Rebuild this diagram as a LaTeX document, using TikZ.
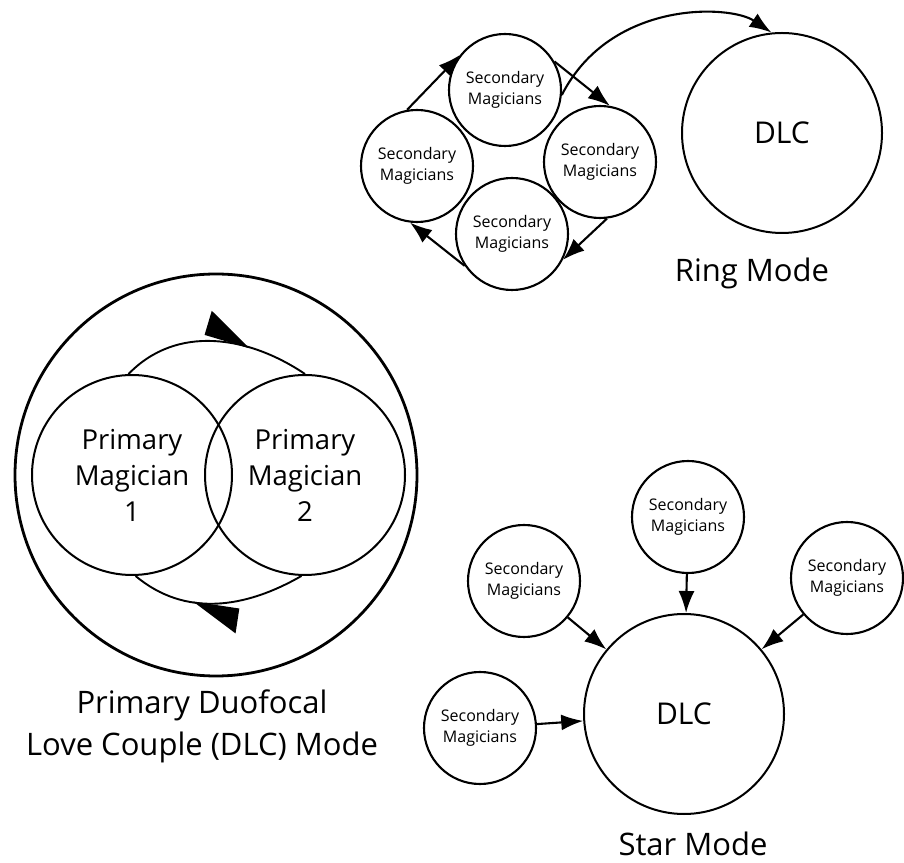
\documentclass[tikz,border=0pt]{standalone}
\usepackage{fontspec}
\setmainfont{Open Sans}
\usetikzlibrary{arrows.meta,decorations.markings}

\begin{document}
\begin{tikzpicture}[x=1pt,y=1pt,>={Latex[length=22pt,width=16pt]},
		magician/.style={circle,draw,line width=2.1pt,inner sep=0pt,minimum size=112pt,align=center,font=\fontsize{16}{21}\selectfont},
		primary/.style={circle,draw,line width=2pt,inner sep=0pt,minimum size=200pt,align=center,font=\fontsize{27.5}{36}\selectfont},
		dlc/.style={primary,font=\fontsize{30}{36}\selectfont},
		modename/.style={align=center,font=\fontsize{31}{42}\selectfont},
		flow/.style={->,line width=2.1pt},
		spin/.style={line width=1.9pt,decoration={markings,mark=at position #1 with {\arrow{Triangle[harpoon,length=45pt,width=48pt]}}},postaction=decorate}]
			\useasboundingbox (0,0) rectangle (904,862);
			\def\sm{Secondary\\Magicians}
			% ring mode
			\node[magician] (st) at (505,772) {\sm};
			\node[magician] (sl) at (417,696) {\sm};
			\node[magician] (sr) at (600,700) {\sm};
			\node[magician] (sb) at (512,628) {\sm};
			\node[dlc] (rd) at (782,729) {DLC};
			\node[modename,anchor=base] (ringname) at (752,580) {Ring Mode};
			\draw[flow] (sl.100) -- (st.142);
			\draw[flow] (st.30) -- (sr.80);
			\draw[flow] (sr.-83) -- (sb.-27);
			\draw[flow] (sb.214) -- (sl.263);
			\draw[flow] (st.-5) .. controls +(63:107) and +(146:50) .. (rd.96);
			% primary duofocal mode
			\node[circle,draw,line width=2.8pt,minimum size=402pt] (outer) at (216,387) {};
			\node[primary] (pm1) at (132,387) {Primary\\Magician\\1};
			\node[primary] (pm2) at (305,387) {Primary\\Magician\\2};
			\draw[spin=0.68] (pm1.92) to[out=46,in=146] (pm2.90);
			\draw[spin=0.64] (pm2.-92) to[out=-150,in=-40] (pm1.-88);
			\node[modename] (dlcname) at (202,136) {Primary Duofocal\\Love Couple (DLC) Mode};
			% star mode
			\node[dlc] (sd) at (684,148) {DLC};
			\node[magician] (s1) at (688,345) {\sm};
			\node[magician] (s2) at (524,281) {\sm};
			\node[magician] (s3) at (847,284) {\sm};
			\node[magician] (s4) at (480,134) {\sm};
			\node[modename,anchor=base] (starname) at (693,7) {Star Mode};
			\foreach \s in {s1,s2,s3,s4}
			{
				\draw[flow] (\s) -- (sd);
			}
		\end{tikzpicture}
\end{document}
